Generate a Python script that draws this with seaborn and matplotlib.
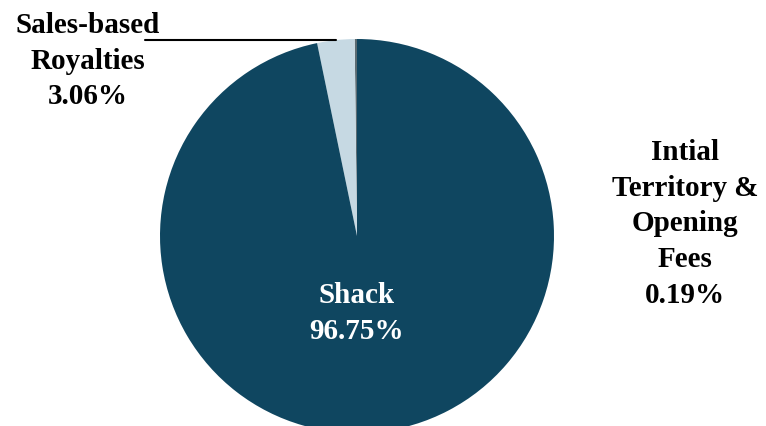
import numpy as np
import matplotlib
matplotlib.use("Agg")
import matplotlib.pyplot as plt
import seaborn as sns

labels = ["Intial\nTerritory &\nOpening\nFees", "Sales-based\nRoyalties", "Shack"]
shares = [0.19, 3.06, 96.75]
colors = ["#5b6b72", "#c6d9e3", "#0f4660"]

sns.set_theme(style="white")
plt.rcParams["font.family"] = ["Liberation Serif", "DejaVu Serif"]

fig = plt.figure(figsize=(7.66, 4.27), dpi=100)
# square axes, pie centre ~ (357, 237) px, radius ~197 px
ax = fig.add_axes([160 / 766, -7 / 427, 394 / 766, 394 / 427])

wedges, _ = ax.pie(shares, colors=colors, startangle=90, counterclock=True,
                   radius=1, wedgeprops=dict(linewidth=0))
ax.set_xlim(-1, 1)
ax.set_ylim(-1, 1)
ax.set_aspect("equal")
ax.axis("off")

txt = dict(fontsize=21, fontweight="bold", ha="center", va="center",
           linespacing=1.42)

# Shack label inside the slice
ax.text(0, -0.39, f"{labels[2]}\n{shares[2]:.2f}%", color="white", **txt)

# right label (initial fees)
ax.text(1.665, 0.066, f"{labels[0]}\n{shares[0]:.2f}%", color="black", **txt)

# left label (royalties) with leader line to the wedge edge
ax.text(-1.365, 0.893, f"{labels[1]}\n{shares[1]:.2f}%", color="black", **txt)
w = wedges[1]
mid = np.deg2rad((w.theta1 + w.theta2) / 2)
ex, ey = np.cos(mid), np.sin(mid)
ax.plot([-1.076, ex], [ey, ey], color="black", lw=1.5, clip_on=False)

fig.savefig("out.png", dpi=100)
